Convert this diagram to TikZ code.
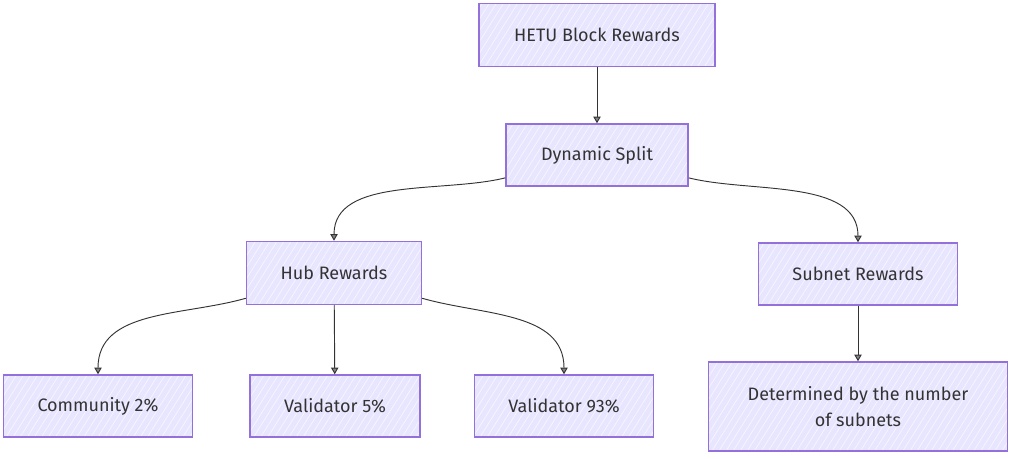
\documentclass[tikz,border=0pt]{standalone}
\usepackage{fontspec}
\setmainfont{Fira Sans}
\usetikzlibrary{arrows.meta, patterns.meta}

\definecolor{boxfill}{HTML}{E8E5FF}
\definecolor{boxline}{HTML}{9370DB}
\definecolor{ink}{HTML}{333333}
\newdimen\unitpx
\unitpx=0.75pt

\begin{document}
\begin{tikzpicture}[x=0.75pt, y=0.75pt,
    box/.style={draw=boxline, line width=1.1pt, preaction={fill=boxfill},
      pattern={Lines[angle=58, distance=4.5pt, line width=0.5pt]}, pattern color=white!70!boxfill,
      text=ink, inner sep=0pt, font=\fontsize{13.5}{20}\selectfont, align=center},
    link/.style={draw=ink, line width=0.7pt,
      -{Triangle[length=5pt, width=5.5pt, fill=ink!60]}}]
    \useasboundingbox (0, 0) rectangle (1016, -458);
    \node[box, minimum width=236\unitpx, minimum height=63\unitpx] (hetu) at (597, -35) {HETU Block Rewards};
    \node[box, minimum width=182\unitpx, minimum height=62\unitpx] (split) at (597, -155) {Dynamic Split};
    \node[box, minimum width=175\unitpx, minimum height=63\unitpx] (hub) at (334, -273) {Hub Rewards};
    \node[box, minimum width=199\unitpx, minimum height=62\unitpx] (subnet) at (858, -274) {Subnet Rewards};
    \node[box, minimum width=189\unitpx, minimum height=62\unitpx] (community) at (98, -406) {Community 2\%};
    \node[box, minimum width=170\unitpx, minimum height=62\unitpx] (valfive) at (335, -406) {Validator 5\%};
    \node[box, minimum width=179\unitpx, minimum height=62\unitpx] (valnine) at (564, -406) {Validator 93\%};
    \node[box, minimum width=299\unitpx, minimum height=89\unitpx] (subnets) at (858, -406.5) {Determined by the number\\of subnets};
    % connectors
    \draw[link] (hetu) -- (split);
    \draw[link] (split) to[out=194, in=90, looseness=0.9] (hub);
    \draw[link] (split) to[out=-14, in=90, looseness=0.9] (subnet);
    \draw[link] (hub) to[out=196, in=90] (community);
    \draw[link] (hub) -- (valfive);
    \draw[link] (hub) to[out=-16, in=90] (valnine);
    \draw[link] (subnet) -- (subnets);
  \end{tikzpicture}
\end{document}
